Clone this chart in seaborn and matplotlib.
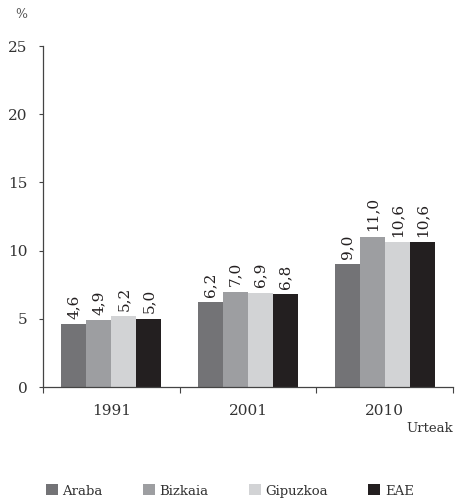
"""Recreate the bar chart of rates by territory."""

import matplotlib.pyplot as plt
import pandas as pd
import seaborn as sns

years = ["1991", "2001", "2010"]
regions = ["Araba", "Bizkaia", "Gipuzkoa", "EAE"]
araba = [4.6, 6.2, 9.0]
bizkaia = [4.9, 7.0, 11.0]
gipuzkoa = [5.2, 6.9, 10.6]
eae = [5.0, 6.8, 10.6]
colors = ["#737376", "#9d9ea1", "#d2d3d5", "#231f20"]

sns.set_theme(style="ticks")
plt.rcParams["font.family"] = ["DejaVu Serif"]

rows = []
for name, vals in zip(regions, [araba, bizkaia, gipuzkoa, eae]):
    for y, v in zip(years, vals):
        rows.append({"Urtea": y, "Lurraldea": name, "Balioa": v})
df = pd.DataFrame(rows)

fig = plt.figure(figsize=(4.55, 4.99), dpi=100)
ax = fig.add_axes([0.0945, 0.2244, 0.9011, 0.6834])

sns.barplot(data=df, x="Urtea", y="Balioa", hue="Lurraldea", order=years,
            hue_order=regions, palette=colors, width=0.73, gap=0,
            saturation=1, errorbar=None, linewidth=0, ax=ax, legend=True)

for cont in ax.containers:
    labels = [f"{v:.1f}".replace(".", ",") for v in cont.datavalues]
    ax.bar_label(cont, labels=labels, rotation=90, padding=4,
                 fontsize=11, color="#231f20")

ax.set_ylim(0, 25)
ax.set_yticks([0, 5, 10, 15, 20, 25])
ax.set_xlim(-0.5, 2.5)
ax.set_xticks([-0.5, 0.5, 1.5, 2.5], minor=True)
ax.tick_params(axis="x", which="major", length=0, pad=12, labelsize=11,
               labelcolor="#333333")
ax.tick_params(axis="x", which="minor", length=4, width=0.8, color="#444444")
ax.tick_params(axis="y", length=3, width=0.8, color="#444444", labelsize=11,
               pad=8, labelcolor="#333333")
ax.set_xlabel("")
ax.set_ylabel("")
sns.despine(ax=ax)
for side in ["left", "bottom"]:
    ax.spines[side].set_color("#444444")
    ax.spines[side].set_linewidth(0.9)

fig.text(21 / 455, 1 - 15 / 499, "%", fontsize=9, ha="center", va="center",
         color="#555555")
fig.text(453 / 455, 1 - 428 / 499, "Urteak", fontsize=9.5, ha="right",
         va="center", color="#333333")

handles, labels = ax.get_legend_handles_labels()
ax.get_legend().remove()
fig.legend(handles, labels, loc="center", bbox_to_anchor=(0.505, 1 - 491 / 499),
           ncol=4, frameon=False, fontsize=9.5, handlelength=0.9,
           handleheight=0.9, handletextpad=0.35, columnspacing=3.05,
           labelcolor="#333333")

plt.savefig("out.png", dpi=100)
